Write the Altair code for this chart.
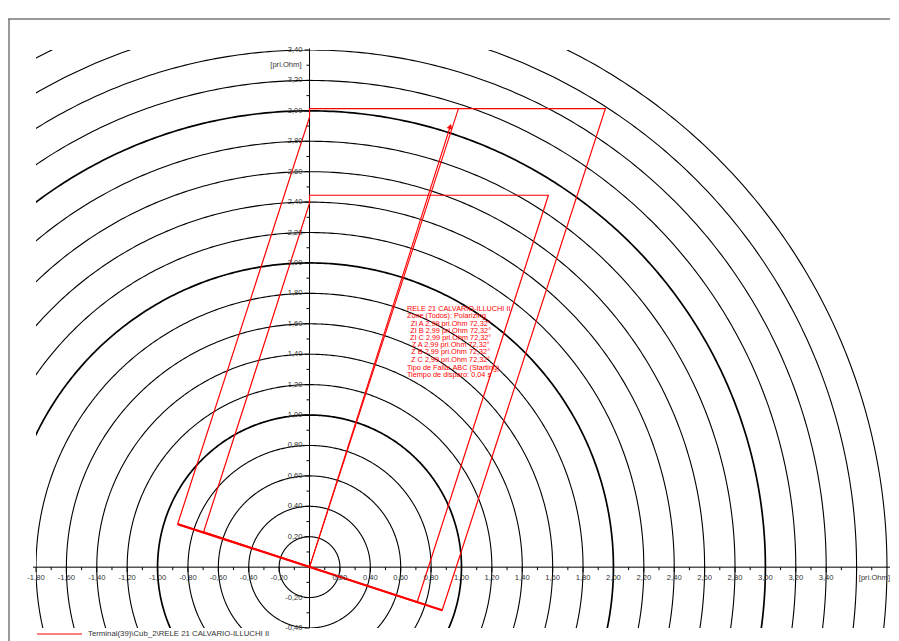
import altair as alt
import pandas as pd
import numpy as np

# ---------------- data ----------------
radii = [0.2, 0.4, 0.6, 0.8, 1.0, 1.2, 1.4, 1.6, 1.8, 2.0, 2.2, 2.4, 2.6, 2.8, 3.0, 3.2, 3.4, 3.6, 3.8]
thick_radii = [1.0, 2.0, 3.0]

x_major = [-1.8, -1.6, -1.4, -1.2, -1.0, -0.8, -0.6, -0.4, -0.2, 0.2, 0.4, 0.6, 0.8, 1.0,
           1.2, 1.4, 1.6, 1.8, 2.0, 2.2, 2.4, 2.6, 2.8, 3.0, 3.2, 3.4, 3.6]
x_labels = ["-1,80", "-1,60", "-1,40", "-1,20", "-1,00", "-0,80", "-0,60", "-0,40", "-0,20",
            "0,20", "0,40", "0,60", "0,80", "1,00", "1,20", "1,40", "1,60", "1,80", "2,00",
            "2,20", "2,40", "2,60", "2,80", "3,00", "3,20", "3,40", ""]
x_minor = [-1.7, -1.5, -1.3, -1.1, -0.9, -0.7, -0.5, -0.3, -0.1, 0.1, 0.3, 0.5, 0.7, 0.9,
           1.1, 1.3, 1.5, 1.7, 1.9, 2.1, 2.3, 2.5, 2.7, 2.9, 3.1, 3.3, 3.5, 3.7]
y_major = [-0.4, -0.2, 0.2, 0.4, 0.6, 0.8, 1.0, 1.2, 1.4, 1.6, 1.8, 2.0, 2.2, 2.4, 2.6,
           2.8, 3.0, 3.2, 3.4]
y_labels = ["-0,40", "-0,20", "0,20", "0,40", "0,60", "0,80", "1,00", "1,20", "1,40", "1,60",
            "1,80", "2,00", "2,20", "2,40", "2,60", "2,80", "3,00", "3,20", "3,40"]
y_minor = [-0.3, -0.1, 0.1, 0.3, 0.5, 0.7, 0.9, 1.1, 1.3, 1.5, 1.7, 1.9, 2.1, 2.3, 2.5,
           2.7, 2.9, 3.1, 3.3]
unit_label = "[pri.Ohm]"

outer_x = [-0.868, 0.0, 0.0, 1.947, 0.873, -0.868]
outer_y = [0.283, 2.958, 3.015, 3.015, -0.283, 0.283]
inner_x = [-0.697, 0.0, 0.0, 1.572, 0.708, -0.697]
inner_y = [0.232, 2.393, 2.445, 2.445, -0.230, 0.232]
reach_x = [0.0, 0.980]
reach_y = [0.0, 3.015]
imp_x = [0.0, 0.926]
imp_y = [0.0, 2.897]
marker_x = [0.926]
marker_y = [2.897]

info_head = ["RELE 21 CALVARIO-ILLUCHI II", "Zone (Todos): Polarizing"]
info_imp = ["ZI A 2,99 pri.Ohm 72,32°", "ZI B 2,99 pri.Ohm 72,32°", "ZI C 2,99 pri.Ohm 72,32°",
            "Z A 2,99 pri.Ohm 72,32°", "Z B 2,99 pri.Ohm 72,32°", "Z C 2,99 pri.Ohm 72,32°"]
info_tail = ["Tipo de Falla: ABC (Starting)", "Tiempo de disparo: 0,04 s"]
legend_label = "Terminal(39)\\Cub_2\\RELE 21 CALVARIO-ILLUCHI II"

# ---------------- tables ----------------
FONT = "Liberation Sans"
XS = alt.Scale(domain=[-1.8, 3.82], nice=False, zero=False)
YS = alt.Scale(domain=[-0.4, 3.4], nice=False, zero=False)

ang = np.deg2rad(np.arange(0, 360.5, 0.5))
rows = []
for r in radii:
    for i, a in enumerate(ang):
        rows.append({"r": r, "i": i, "x": r * np.cos(a), "y": r * np.sin(a),
                     "thick": r in thick_radii})
circ = pd.DataFrame(rows)


def X(f="x"):
    return alt.X(f"{f}:Q", scale=XS, axis=None)


def Y(f="y"):
    return alt.Y(f"{f}:Q", scale=YS, axis=None)


circ_thin = alt.Chart(circ[~circ.thick]).mark_line(clip=True, color="black", strokeWidth=1.1).encode(
    x=X(), y=Y(), detail="r:N", order="i:Q")
circ_thick = alt.Chart(circ[circ.thick]).mark_line(clip=True, color="black", strokeWidth=1.7).encode(
    x=X(), y=Y(), detail="r:N", order="i:Q")

dummy = pd.DataFrame({"a": [0]})
xaxis = alt.Chart(dummy).mark_rule(color="black", strokeWidth=1).encode(
    x=alt.X(datum=-1.82, scale=XS, axis=None), x2=alt.datum(3.83), y=alt.Y(datum=0, scale=YS, axis=None))
yaxis = alt.Chart(dummy).mark_rule(color="black", strokeWidth=1).encode(
    x=alt.X(datum=0, scale=XS, axis=None), y=alt.Y(datum=-0.4, scale=YS, axis=None), y2=alt.datum(3.41))

xmaj = pd.DataFrame({"v": x_major, "label": x_labels})
xmin = pd.DataFrame({"v": x_minor})
ymaj = pd.DataFrame({"v": y_major, "label": y_labels})
ymin = pd.DataFrame({"v": y_minor})

xt_major = alt.Chart(xmaj).mark_rule(color="black", y2Offset=5).encode(
    x=X("v"), y=alt.Y(datum=0, scale=YS, axis=None), y2=alt.datum(0))
xt_minor = alt.Chart(xmin).mark_rule(color="black", y2Offset=3).encode(
    x=X("v"), y=alt.Y(datum=0, scale=YS, axis=None), y2=alt.datum(0))
yt_major = alt.Chart(ymaj).mark_rule(color="black", x2Offset=-5).encode(
    y=Y("v"), x=alt.X(datum=0, scale=XS, axis=None), x2=alt.datum(0))
yt_minor = alt.Chart(ymin).mark_rule(color="black", x2Offset=-3).encode(
    y=Y("v"), x=alt.X(datum=0, scale=XS, axis=None), x2=alt.datum(0))

xlab = alt.Chart(xmaj).mark_text(font=FONT, fontSize=7.6, color="#333", dy=11,
                                 align="center", baseline="middle").encode(
    x=X("v"), y=alt.Y(datum=0, scale=YS, axis=None), text="label:N")
ylab = alt.Chart(ymaj).mark_text(font=FONT, fontSize=7.6, color="#333", dx=-7,
                                 align="right", baseline="middle").encode(
    y=Y("v"), x=alt.X(datum=0, scale=XS, axis=None), text="label:N")
xunit = alt.Chart(dummy).mark_text(font=FONT, fontSize=7.6, color="#333", dy=11,
                                   align="right", baseline="middle").encode(
    x=alt.X(datum=3.82, scale=XS, axis=None), y=alt.Y(datum=0, scale=YS, axis=None),
    text=alt.value(unit_label))
yunit = alt.Chart(dummy).mark_text(font=FONT, fontSize=7.6, color="#333", dx=-8,
                                   align="right", baseline="middle").encode(
    x=alt.X(datum=0, scale=XS, axis=None), y=alt.Y(datum=3.3, scale=YS, axis=None),
    text=alt.value(unit_label))

outer = pd.DataFrame({"x": outer_x, "y": outer_y, "i": range(len(outer_x))})
inner = pd.DataFrame({"x": inner_x, "y": inner_y, "i": range(len(inner_x))})
bottom = pd.DataFrame({"x": [outer_x[0], outer_x[4]], "y": [outer_y[0], outer_y[4]], "i": [0, 1]})
reach = pd.DataFrame({"x": reach_x, "y": reach_y, "i": [0, 1]})
imp = pd.DataFrame({"x": imp_x, "y": imp_y, "i": [0, 1]})
mk = pd.DataFrame({"x": marker_x, "y": marker_y})

RED = "#ff0000"
l_outer = alt.Chart(outer).mark_line(color=RED, strokeWidth=1.2).encode(x=X(), y=Y(), order="i:Q")
l_inner = alt.Chart(inner).mark_line(color=RED, strokeWidth=1.2).encode(x=X(), y=Y(), order="i:Q")
l_bottom = alt.Chart(bottom).mark_line(color=RED, strokeWidth=2.2).encode(x=X(), y=Y(), order="i:Q")
l_reach = alt.Chart(reach).mark_line(color=RED, strokeWidth=1.1).encode(x=X(), y=Y(), order="i:Q")
l_imp = alt.Chart(imp).mark_line(color=RED, strokeWidth=1.1).encode(x=X(), y=Y(), order="i:Q")
l_mk = alt.Chart(mk).mark_point(shape="triangle-up", filled=True, color=RED, size=34,
                                angle=18, opacity=1).encode(x=X(), y=Y())


def block(lines, xd, yd, align):
    d = pd.DataFrame({"t": ["\n".join(lines)]})
    return alt.Chart(d).mark_text(font=FONT, fontSize=7.3, lineHeight=7.2, lineBreak="\n",
                                  color=RED, align=align, baseline="middle").encode(
        x=alt.X(datum=xd, scale=XS, axis=None), y=alt.Y(datum=yd, scale=YS, axis=None), text="t:N")


t1 = block(info_head, 0.641, 1.699, "left")
t2 = block(info_imp, 0.929, 1.601, "center")
t3 = block(info_tail, 0.641, 1.311, "left")

leg_line = alt.Chart(dummy).mark_rule(color=RED, strokeWidth=1.2).encode(
    x=alt.value(1), x2=alt.value(46), y=alt.value(584))
leg_text = alt.Chart(dummy).mark_text(font=FONT, fontSize=7.8, color="#333", align="left",
                                      baseline="middle").encode(
    x=alt.value(52), y=alt.value(584), text=alt.value(legend_label))

frame_top = alt.Chart(dummy).mark_rule(color="#777", strokeWidth=1.5).encode(
    x=alt.value(-28), x2=alt.value(870), y=alt.value(-31))
frame_left = alt.Chart(dummy).mark_rule(color="#777", strokeWidth=1.5).encode(
    x=alt.value(-27), y=alt.value(-31), y2=alt.value(600))

chart = alt.layer(
    circ_thin, circ_thick, xaxis, yaxis, xt_major, xt_minor, yt_major, yt_minor,
    l_outer, l_inner, l_bottom, l_reach, l_imp, l_mk,
    xlab, ylab, xunit, yunit, t1, t2, t3, leg_line, leg_text, frame_top, frame_left
).properties(
    width=854, height=578, autosize="none",
    padding={"left": 28, "top": 42, "right": 0, "bottom": 13},
    background="white"
).configure_view(stroke=None)

chart.save("out.html", embed_options={"renderer": "svg", "actions": False})
